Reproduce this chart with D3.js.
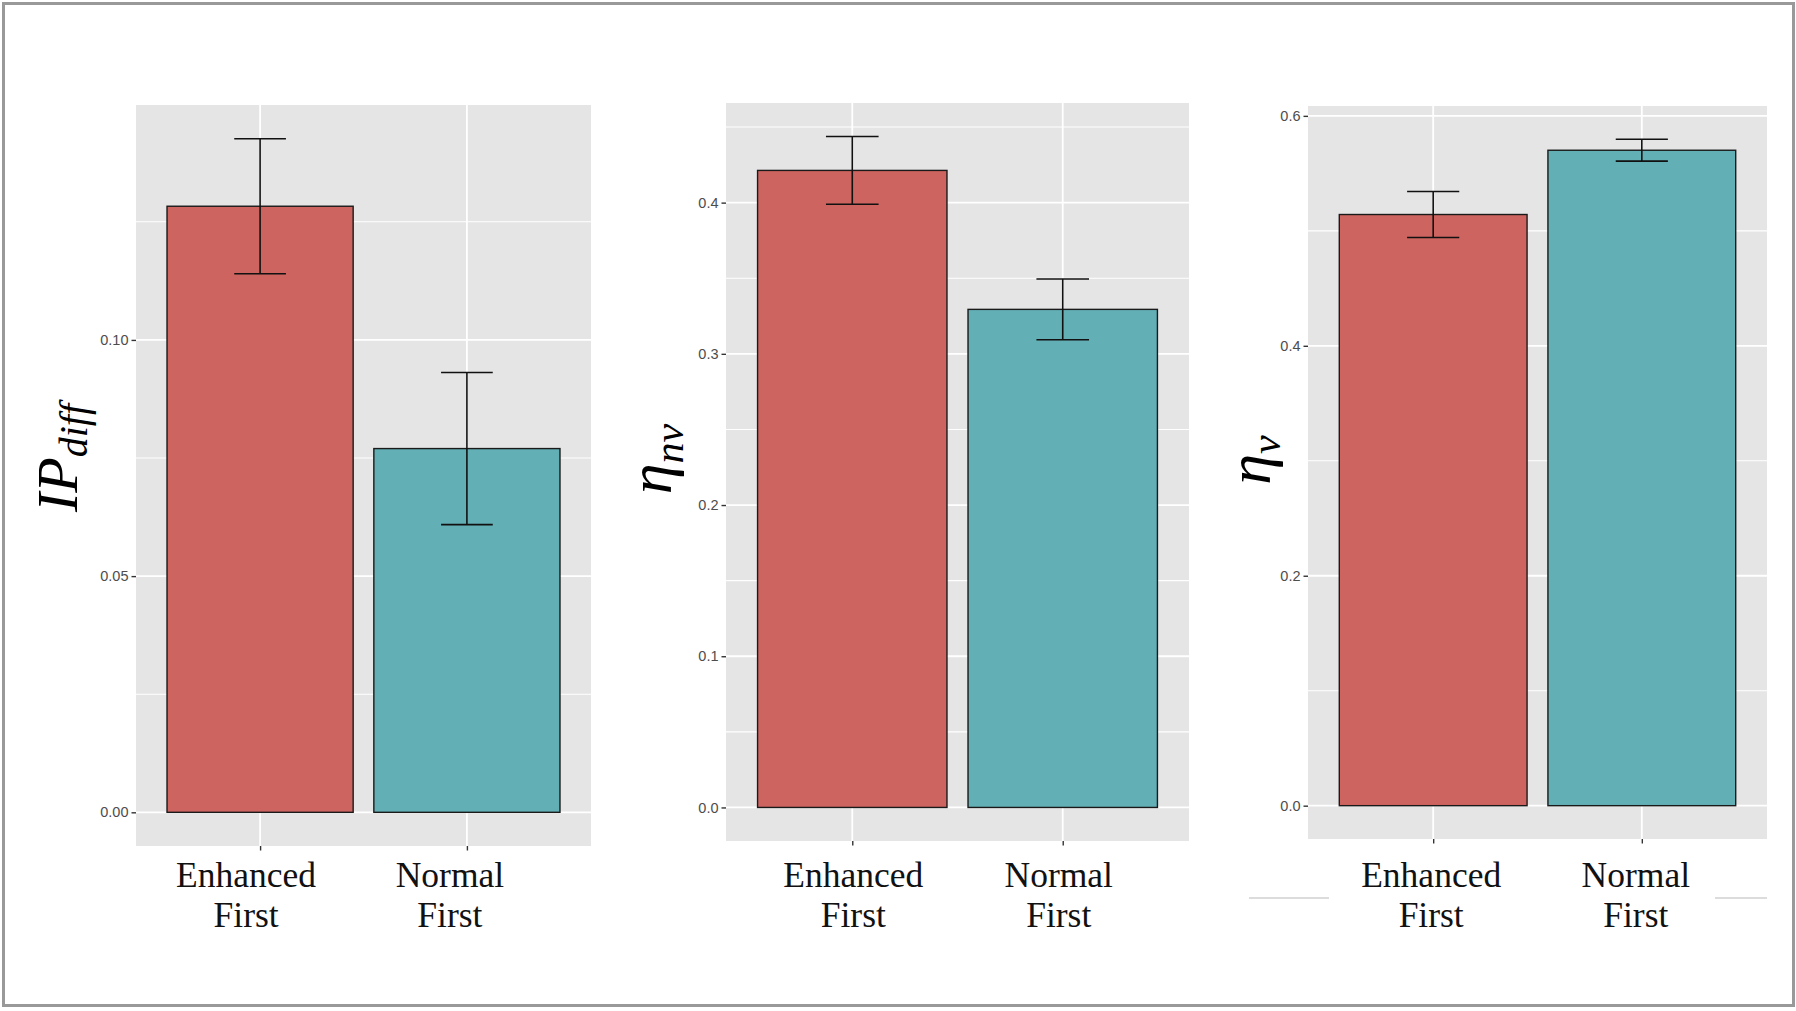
<!DOCTYPE html>
<html>
<head>
<meta charset="utf-8">
<script src="https://cdn.jsdelivr.net/npm/d3@7"></script>
<style>
  html, body { margin: 0; padding: 0; background: #ffffff; }
  svg { display: block; }
</style>
</head>
<body>
<svg id="chart" width="1796" height="1011"></svg>
<script>
// ---------------- DATA ----------------
const categories = ["Enhanced First", "Normal First"];
const categoryLines = [["Enhanced", "First"], ["Normal", "First"]];

const ipDiffMeans = [0.1283, 0.0770];
const ipDiffSE    = [0.0143, 0.0161];
const ipDiffTicks = [0.00, 0.05, 0.10];
const ipDiffTickLabels = ["0.00", "0.05", "0.10"];

const etaNvMeans = [0.4213, 0.3294];
const etaNvSE    = [0.0224, 0.0201];
const etaNvTicks = [0.0, 0.1, 0.2, 0.3, 0.4];
const etaNvTickLabels = ["0.0", "0.1", "0.2", "0.3", "0.4"];

const etaVMeans = [0.5142, 0.5701];
const etaVSE    = [0.0200, 0.0095];
const etaVTicks = [0.0, 0.2, 0.4, 0.6];
const etaVTickLabels = ["0.0", "0.2", "0.4", "0.6"];

const barColors = ["#CD645F", "#62AFB5"];

// ---------------- LAYOUT / STYLE ----------------
const panels = [
  { means: ipDiffMeans, se: ipDiffSE, ticks: ipDiffTicks, labels: ipDiffTickLabels,
    box: { left: 136, right: 591, top: 105, bottom: 846 },
    title: { main: "IP", sub: "diff", x: 77, y: 458, mainSize: 58, subSize: 40, subDy: 10 },
    labelDx: [-14, -17] },
  { means: etaNvMeans, se: etaNvSE, ticks: etaNvTicks, labels: etaNvTickLabels,
    box: { left: 726, right: 1189, top: 103, bottom: 841 },
    title: { main: "η", sub: "nv", x: 671, y: 459, mainSize: 62, subSize: 42, subDy: 12 },
    labelDx: [1, -4] },
  { means: etaVMeans, se: etaVSE, ticks: etaVTicks, labels: etaVTickLabels,
    box: { left: 1308, right: 1767, top: 106, bottom: 839 },
    title: { main: "η", sub: "v", x: 1270, y: 460, mainSize: 62, subSize: 42, subDy: 10 },
    labelDx: [-2, -6] }
];

const svg = d3.select("#chart");
svg.append("rect").attr("x", 0).attr("y", 0).attr("width", 1796).attr("height", 1011).attr("fill", "#ffffff");

panels.forEach((p) => {
  const b = p.box;
  const g = svg.append("g");

  // ggplot-like continuous scale with 5% expansion
  const maxV = d3.max(p.means.map((m, i) => m + p.se[i]));
  const lo = 0, hi = maxV;
  const pad = (hi - lo) * 0.05;
  const y = d3.scaleLinear().domain([lo - pad, hi + pad]).range([b.bottom, b.top]);

  // discrete scale: 0.6 units expansion each side
  const x = d3.scalePoint().domain(categories).range([b.left, b.right]).padding(0.6);
  const step = x.step();
  const barW = step * 0.9;
  const capW = step * 0.25;

  // panel background
  g.append("rect")
    .attr("x", b.left).attr("y", b.top)
    .attr("width", b.right - b.left).attr("height", b.bottom - b.top)
    .attr("fill", "#E5E5E5");

  // minor grid (midpoints of major breaks, extended one step)
  const tStep = p.ticks[1] - p.ticks[0];
  const ext = [p.ticks[0] - tStep, ...p.ticks, p.ticks[p.ticks.length - 1] + tStep];
  const minors = [];
  for (let i = 0; i < ext.length - 1; i++) minors.push((ext[i] + ext[i + 1]) / 2);
  const [d0, d1] = y.domain();
  g.selectAll(".minor").data(minors.filter(v => v >= d0 && v <= d1)).join("line")
    .attr("x1", b.left).attr("x2", b.right)
    .attr("y1", d => y(d)).attr("y2", d => y(d))
    .attr("stroke", "#ffffff").attr("stroke-width", 1.1);

  // major grid
  g.selectAll(".major").data(p.ticks).join("line")
    .attr("x1", b.left).attr("x2", b.right)
    .attr("y1", d => y(d)).attr("y2", d => y(d))
    .attr("stroke", "#ffffff").attr("stroke-width", 1.8);
  g.selectAll(".vmajor").data(categories).join("line")
    .attr("x1", d => x(d)).attr("x2", d => x(d))
    .attr("y1", b.top).attr("y2", b.bottom)
    .attr("stroke", "#ffffff").attr("stroke-width", 1.8);

  // bars
  g.selectAll(".bar").data(categories).join("rect")
    .attr("x", d => x(d) - barW / 2)
    .attr("width", barW)
    .attr("y", (d, i) => y(p.means[i]))
    .attr("height", (d, i) => y(0) - y(p.means[i]))
    .attr("fill", (d, i) => barColors[i])
    .attr("stroke", "#1a1a1a").attr("stroke-width", 1.4);

  // error bars
  categories.forEach((c, i) => {
    const cx = x(c);
    const yt = y(p.means[i] + p.se[i]);
    const yb = y(p.means[i] - p.se[i]);
    g.append("line").attr("x1", cx).attr("x2", cx).attr("y1", yt).attr("y2", yb)
      .attr("stroke", "#111").attr("stroke-width", 1.6);
    g.append("line").attr("x1", cx - capW / 2).attr("x2", cx + capW / 2).attr("y1", yt).attr("y2", yt)
      .attr("stroke", "#111").attr("stroke-width", 1.6);
    g.append("line").attr("x1", cx - capW / 2).attr("x2", cx + capW / 2).attr("y1", yb).attr("y2", yb)
      .attr("stroke", "#111").attr("stroke-width", 1.6);
  });

  // y axis
  const yAxis = d3.axisLeft(y).tickValues(p.ticks)
    .tickFormat((d, i) => p.labels[i]).tickSize(4.5).tickPadding(3);
  const ya = g.append("g").attr("transform", `translate(${b.left},0)`).call(yAxis);
  ya.select(".domain").remove();
  ya.selectAll(".tick line").attr("stroke", "#333333").attr("stroke-width", 1.4);
  ya.selectAll(".tick text").attr("fill", "#4D4D4D")
    .style("font-family", "'Liberation Sans', Arial, sans-serif").style("font-size", "14.5px");

  // x axis (ticks only; labels drawn large below)
  const xAxis = d3.axisBottom(x).tickSize(4.5).tickFormat("");
  const xa = g.append("g").attr("transform", `translate(0,${b.bottom})`).call(xAxis);
  xa.select(".domain").remove();
  xa.selectAll(".tick line").attr("stroke", "#333333").attr("stroke-width", 1.4);

  // large category labels
  categories.forEach((c, i) => {
    const lx = x(c) + p.labelDx[i];
    const t = g.append("text")
      .attr("x", lx).attr("y", 887)
      .attr("text-anchor", "middle")
      .attr("fill", "#111")
      .style("font-family", "'Liberation Serif', 'DejaVu Serif', serif")
      .style("font-size", "35.5px");
    categoryLines[i].forEach((line, k) => {
      t.append("tspan").attr("x", lx).attr("dy", k === 0 ? 0 : 40).text(line);
    });
  });

  // y axis title (italic serif, with subscript)
  const tt = p.title;
  const title = g.append("text")
    .attr("transform", `translate(${tt.x},${tt.y}) rotate(-90)`)
    .attr("text-anchor", "middle")
    .attr("fill", "#000")
    .style("font-family", "'Liberation Serif', 'DejaVu Serif', serif")
    .style("font-style", "italic");
  title.append("tspan").style("font-size", tt.mainSize + "px").text(tt.main);
  title.append("tspan").attr("dy", tt.subDy).style("font-size", tt.subSize + "px").text(tt.sub);
});

// faint leftover rules near the third panel's labels
svg.append("line").attr("x1", 1249).attr("x2", 1329).attr("y1", 898).attr("y2", 898)
  .attr("stroke", "#DCDCDC").attr("stroke-width", 2);
svg.append("line").attr("x1", 1715).attr("x2", 1767).attr("y1", 898).attr("y2", 898)
  .attr("stroke", "#DCDCDC").attr("stroke-width", 2);

// outer frame
svg.append("rect").attr("x", 3.5).attr("y", 3.5).attr("width", 1790).attr("height", 1002)
  .attr("fill", "none").attr("stroke", "#999999").attr("stroke-width", 3);
</script>
</body>
</html>
